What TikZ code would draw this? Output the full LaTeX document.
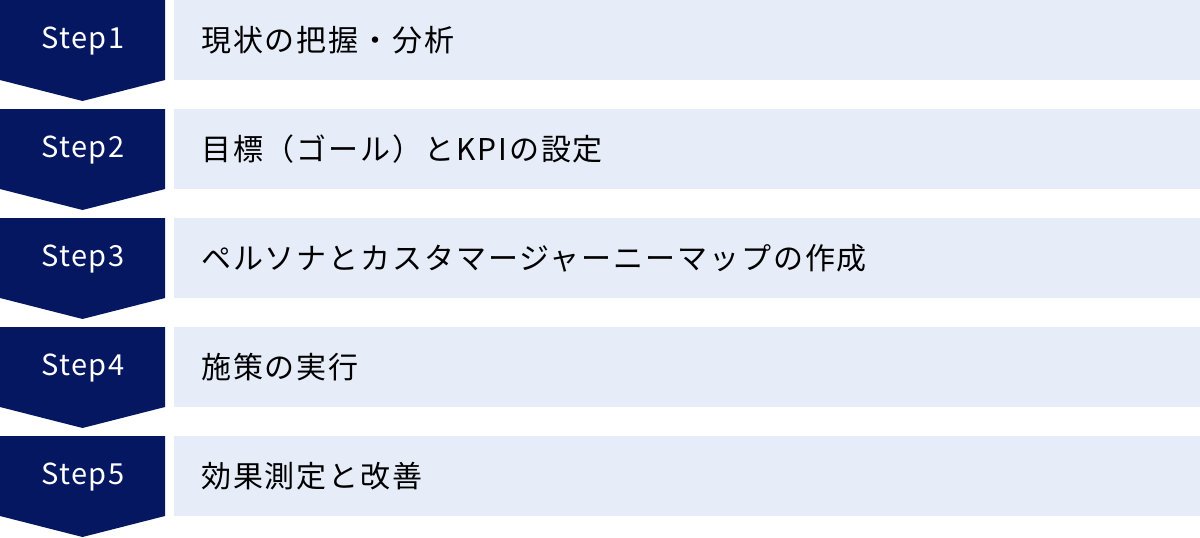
\documentclass[tikz,border=0pt]{standalone}
\usepackage{fontspec}
\setmainfont{Noto Sans CJK JP}[LetterSpace=5]
\newfontfamily\jpfont{Noto Sans CJK JP}[LetterSpace=6.3]
\definecolor{navy}{RGB}{5,23,97}
\definecolor{pale}{RGB}{230,236,248}
\tikzset{
  stepshape/.style={fill=navy, draw=none},
  steplabel/.style={text=white, font=\fontsize{29}{34}\selectfont, inner sep=0pt},
  bar/.style={fill=pale, draw=none, anchor=north west, minimum width=1026pt, minimum height=80pt, inner sep=0pt},
  barlabel/.style={text=black, font=\jpfont\fontsize{30}{36}\selectfont, anchor=west, inner sep=0pt},
}
\begin{document}
\begin{tikzpicture}[x=1pt,y=-1pt]
\useasboundingbox (0,0) rectangle (1200,538);
\foreach \i/\t [evaluate=\i as \y using (\i-1)*109] in {
  1/{現状の把握・分析},
  2/{目標（ゴール）とKPIの設定},
  3/{ペルソナとカスタマージャーニーマップの作成},
  4/{施策の実行},
  5/{効果測定と改善}} {
  \fill[stepshape] (0,\y) -- (165,\y) -- (165,\y+80) -- (82.5,\y+101) -- (0,\y+80) -- cycle;
  \node[steplabel] (s\i) at (83,\y+41) {Step\i};
  \node[bar] (b\i) at (174,\y) {};
  \node[barlabel] (t\i) at (201,\y+40) {\t};
}
\end{tikzpicture}
\end{document}
